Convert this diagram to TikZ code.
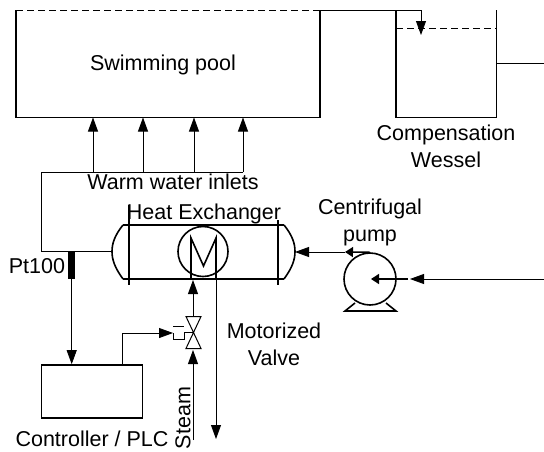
\documentclass[tikz,border=0pt]{standalone}
\usepackage{fontspec}
\setmainfont{Liberation Sans}
\usetikzlibrary{arrows.meta}
\begin{document}
\begin{tikzpicture}
    [
    x=1pt,y=-1pt,
    tag/.style={inner sep=0pt,font=\fontsize{21.5}{27}\selectfont,align=center},
    wall/.style={line width=1.6pt},
    pipe/.style={line width=0.8pt},
    level/.style={line width=0.8pt,dash pattern=on 7pt off 4pt},
    flow/.style={line width=0.8pt,-{Triangle[length=14pt,width=10pt]}},
    shaft/.style={line width=1.4pt,-{Triangle[length=8pt,width=10pt]}},
    ]
    \useasboundingbox (0,0) rectangle (544,451);
    % pool
    \coordinate (pooltl) at (16,10);
    \coordinate (pooltr) at (320,10);
    \coordinate (poolbl) at (16,117.5);
    \coordinate (poolbr) at (320,117.5);
    \draw [wall] (pooltl) -- (poolbl) -- (poolbr) -- (pooltr);
    \draw [level] (pooltl) -- (pooltr);
    \node (pool) at (163,65) [tag] {Swimming pool};
    % compensation vessel
    \coordinate (vesseltl) at (396,10);
    \coordinate (vesseltr) at (496.5,10);
    \coordinate (vesselbl) at (396,117.5);
    \coordinate (vesselbr) at (496.5,117.5);
    \draw [wall] (vesseltl) -- (vesselbl) -- (vesselbr) -- (vesseltr);
    \draw [level] (396,28.5) -- (496.5,28.5);
    \node (vessel) at (446,146.5) [tag] {Compensation\\Wessel};
    \coordinate (overflow) at (421,35);
    \draw [flow] (pooltr) -- (421,10) -- (overflow);
    \coordinate (return) at (544,63.5);
    \draw [pipe] (vesseltr |- return) -- (return);
    % inlets
    \coordinate (manifold) at (41.5,172);
    \coordinate (inleta) at (93,172);
    \coordinate (inletb) at (143,172);
    \coordinate (inletc) at (194,172);
    \coordinate (inletd) at (243,172);
    \draw [pipe] (manifold) -- (inletd);
    \draw [flow] (inleta) -- (inleta |- poolbl);
    \draw [flow] (inletb) -- (inletb |- poolbl);
    \draw [flow] (inletc) -- (inletc |- poolbl);
    \draw [flow] (inletd) -- (inletd |- poolbl);
    \node (inlets) at (173,182) [tag] {Warm water inlets};
    % heat exchanger
    \coordinate (hxleft) at (112,251.5);
    \coordinate (hxright) at (295,251.5);
    \draw [wall] (123,225) -- (284,225);
    \draw [wall] (123,279) -- (284,279);
    \draw [wall] (129,205) -- (129,285);
    \draw [wall] (278,220) -- (278,285);
    \draw [wall] (123,225) .. controls (115,235) and (112,243) .. (hxleft) .. controls (112,260) and (115,268) .. (123,279);
    \draw [wall] (284,225) .. controls (292,235) and (295,243) .. (hxright) .. controls (295,260) and (292,268) .. (284,279);
    \node (hx) at (203,251.5) [circle,draw,wall,minimum size=50pt,inner sep=0pt] {};
    \node (hxlabel) at (204,214) [tag] {Heat Exchanger};
    \draw [wall] (191,279) -- (191,238) -- (203.5,266) -- (216,238) -- (216,279);
    % warm water loop
    \draw [pipe] (hxleft) -- (manifold |- hxleft) -- (manifold);
    % pt100
    \node (pt) at (71.7,265.5) [inner sep=0pt,minimum width=6.5pt,minimum height=27pt,fill=black] {};
    \node (ptlabel) at (37,266) [tag] {Pt100};
    % controller
    \node (plc) at (92,391.5) [draw,wall,minimum width=101pt,minimum height=53pt,inner sep=0pt] {};
    \node (plclabel) at (92,439) [tag] {Controller / PLC};
    \draw [flow] (pt.south) -- (pt.south |- plc.north);
    % valve
    \coordinate (valve) at (193.5,332.5);
    \coordinate (actuator) at (173,333);
    \draw [wall,line width=1pt] (186,316.5) -- (201,316.5) -- (186,348.5) -- (201,348.5) -- cycle;
    \draw [pipe] (valve) -- (184,332.5);
    \draw [pipe] (173,326) -- (184,326);
    \draw [pipe] (173,333) -- (173,339) -- (184,339) -- (184,333);
    \draw [flow] (122.5,365) -- (122.5,333) -- (actuator);
    \coordinate (steamin) at (193,440);
    \draw [flow] (steamin) -- (193,350);
    \draw [flow] (193,316.5) -- (193,280);
    \coordinate (steamout) at (216,439);
    \draw [pipe] (216,279) -- (216,300);
    \draw [flow] (216,300) -- (steamout);
    \node (motor) at (274,344.5) [tag] {Motorized\\Valve};
    \node (steam) at (183,418) [tag,rotate=90] {Steam};
    % pump
    \node (pump) at (370,279) [circle,draw,wall,minimum size=52pt,inner sep=0pt] {};
    \node (pumplabel) at (370,222) [tag] {Centrifugal\\pump};
    \draw [wall,line join=miter] (355,303) -- (345,311) -- (396,311) -- (386,303);
    \coordinate (outlet) at (345,252);
    \coordinate (pumpin) at (544,279);
    \draw [shaft] (pump.north) -- (outlet);
    \draw [flow] (outlet) -- (hxright |- outlet);
    \draw [shaft] (408,279) -- (371,279);
    \draw [flow] (pumpin) -- (410,279);
\end{tikzpicture}
\end{document}
